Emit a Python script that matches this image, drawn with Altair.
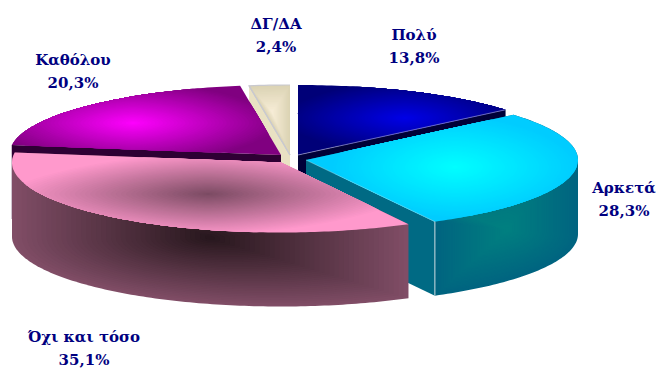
import math
import altair as alt

# Survey shares, clockwise from twelve o'clock
categories = ["Πολύ", "Αρκετά", "Όχι και τόσο", "Καθόλου", "ΔΓ/ΔΑ"]
shares = [13.8, 28.3, 35.1, 20.3, 2.4]
share_labels = ["13,8%", "28,3%", "35,1%", "20,3%", "2,4%"]

# Tilted-disc geometry, in pixels
RY, DEPTH = 70.0, 74.0
radii = [272.0, 272.0, 269.0, 272.0, 272.0]
apexes = [(298, 155), (306, 160), (281, 162.5), (281, 155), (290, 155)]
label_anchors = [(414, 35), (624, 188), (84, 337), (73, 60), (276, 24)]
LINE_GAP = 22.5
BANDS = 40
POLY, ARKETA, OXI, KATHOLOU, DK = 0, 1, 2, 3, 4


def spans():
    total, run = sum(shares), 0.0
    out = []
    for s in shares:
        out.append((run / total * 2 * math.pi, (run + s) / total * 2 * math.pi))
        run += s
    return out


S = spans()


def rim(k, a0, a1, dy=0.0):
    ax, ay = apexes[k]
    n = max(2, int(math.degrees(a1 - a0)))
    return [
        (ax + radii[k] * math.sin(a0 + (a1 - a0) * i / n),
         ay - RY * math.cos(a0 + (a1 - a0) * i / n) + dy)
        for i in range(n + 1)
    ]


def mix(c0, c1, t):
    p = [int(c0[i:i + 2], 16) for i in (1, 3, 5)]
    q = [int(c1[i:i + 2], 16) for i in (1, 3, 5)]
    return "#%02x%02x%02x" % tuple(round(u + (v - u) * t) for u, v in zip(p, q))


features = []


def polygon(points, fill):
    ring = [[round(x, 2), round(y, 2)] for x, y in points]
    ring.append(ring[0])
    features.append({
        "type": "Feature",
        "geometry": {"type": "Polygon", "coordinates": [ring]},
        "properties": {"fill": fill, "stroke": "transparent", "sw": 0},
    })


def line(points, stroke, width=1.0):
    features.append({
        "type": "Feature",
        "geometry": {"type": "LineString",
                     "coordinates": [[round(x, 2), round(y, 2)] for x, y in points]},
        "properties": {"fill": "transparent", "stroke": stroke, "sw": width},
    })


def shaded(points, centre, outer, inner, bands=BANDS):
    """Path-style gradient: nested copies of the outline shrinking to a centre."""
    for i in range(bands + 1):
        s = 1 - i / bands
        polygon([(centre[0] + (x - centre[0]) * s, centre[1] + (y - centre[1]) * s)
                 for x, y in points], mix(outer, inner, i / bands))


def clip_convex(subject, hull_pts):
    """Sutherland-Hodgman clip of a polygon against a convex outline."""
    area = sum(hull_pts[i][0] * hull_pts[(i + 1) % len(hull_pts)][1]
               - hull_pts[(i + 1) % len(hull_pts)][0] * hull_pts[i][1]
               for i in range(len(hull_pts)))
    sign = 1 if area > 0 else -1
    out = subject
    for i in range(len(hull_pts)):
        ax, ay = hull_pts[i]
        bx, by = hull_pts[(i + 1) % len(hull_pts)]
        if abs(bx - ax) + abs(by - ay) < 1e-9:
            continue
        side = lambda p: sign * ((bx - ax) * (p[1] - ay) - (by - ay) * (p[0] - ax))
        kept = []
        for j in range(len(out)):
            p, q = out[j], out[(j + 1) % len(out)]
            sp, sq = side(p), side(q)
            if sp >= 0:
                kept.append(p)
            if sp * sq < 0:
                t = sp / (sp - sq)
                kept.append((p[0] + (q[0] - p[0]) * t, p[1] + (q[1] - p[1]) * t))
        out = kept
        if not out:
            break
    return out


def lens_shaded(outline, centre, half_w, half_h, power, outer, inner, bands=BANDS):
    """Lens-shaped gradient: nested superellipses clipped to a convex outline."""
    polygon(outline, outer)
    for i in range(1, bands + 1):
        s = max(1 - i / bands, 0.01)
        pts = []
        for d in range(0, 360, 4):
            c, n = math.cos(math.radians(d)), math.sin(math.radians(d))
            pts.append((centre[0] + s * half_w * math.copysign(abs(c) ** (2 / power), c),
                        centre[1] + s * half_h * math.copysign(abs(n) ** (2 / power), n)))
        piece = clip_convex(pts, outline)
        if len(piece) > 2:
            polygon(piece, mix(outer, inner, i / bands))


def top(k):
    a0, a1 = S[k]
    return [apexes[k]] + rim(k, a0, a1)


def face(k, angle):
    ax, ay = apexes[k]
    x = ax + radii[k] * math.sin(angle)
    y = ay - RY * math.cos(angle)
    return [(ax, ay), (x, y), (x, y + DEPTH), (ax, ay + DEPTH)], (x, y)


# Small beige slice at the back
quad, _ = face(DK, S[DK][0])
polygon(quad, "#e9e1c3")
shaded(top(DK), (272, 112), "#dbd3b4", "#f8eed8", 16)
line(top(DK), "#c9c9cf", 1.2)
line([top(DK)[0], top(DK)[1]], "#c9c9cf", 1.2)

# Dark blue slice
quad, end = face(POLY, S[POLY][1])
polygon(quad, "#000038")
lens_shaded(top(POLY), (405, 118), 125, 38, 1.7, "#000078", "#0000e8")
line([apexes[POLY], end], "#9a9acc", 0.7)

# Purple slice
quad, _ = face(KATHOLOU, S[KATHOLOU][0])
polygon(quad, "#2e0034")
lens_shaded(top(KATHOLOU), (133, 123), 150, 42, 1.7, "#800080", "#ff00ff")

# Cyan slice: cut face, outer wall, top surface
quad, corner = face(ARKETA, S[ARKETA][1])
polygon(quad, "#006a84")
a0, a1 = S[ARKETA]
wall_outline = ([apexes[ARKETA]] + rim(ARKETA, a0, math.pi / 2)
                + rim(ARKETA, math.pi / 2, a1, DEPTH) + [corner])
shaded(wall_outline, (507, 230), "#006480", "#008080")
lens_shaded(top(ARKETA), (455, 167), 125, 52, 1.8, "#00ccff", "#00ffff")
line([corner, (corner[0], corner[1] + DEPTH)], "#c8d8dc", 1.0)
line([apexes[ARKETA], corner], "#7fd8ea", 0.6)

# Pink slice in front
a0, a1 = S[OXI]
pink_hull = ([apexes[OXI]] + rim(OXI, a0, a0)[:1]
             + rim(OXI, a0, 1.5 * math.pi, DEPTH) + rim(OXI, 1.5 * math.pi, a1))
shaded(pink_hull, (210, 238), "#804d66", "#26161c")
lens_shaded(top(OXI), (208, 194), 205, 42, 1.6, "#ff99cc", "#7a4a62")

slices = alt.Chart(alt.Data(values=features)).mark_geoshape().encode(
    fill=alt.Fill("properties.fill:N", scale=None),
    stroke=alt.Stroke("properties.stroke:N", scale=None),
    strokeWidth=alt.StrokeWidth("properties.sw:Q", scale=None),
).project(type="identity", scale=1, translate=[0, 0])

rows = []
for name, text, (x, y) in zip(categories, share_labels, label_anchors):
    rows.append({"t": name, "x": x, "y": y})
    rows.append({"t": text, "x": x, "y": y + LINE_GAP})

labels = alt.Chart(alt.Data(values=rows)).mark_text(
    font="DejaVu Serif", fontWeight="bold", fontSize=15, color="#000080",
    align="center", baseline="middle",
).encode(
    x=alt.X("x:Q", scale=None),
    y=alt.Y("y:Q", scale=None),
    text="t:N",
)

chart = alt.layer(slices, labels).properties(
    width=659, height=369, padding=0, background="white",
    autosize=alt.AutoSizeParams(type="none"),
).configure_view(stroke=None)

chart.save("out.html", embed_options={"renderer": "svg", "actions": False})
